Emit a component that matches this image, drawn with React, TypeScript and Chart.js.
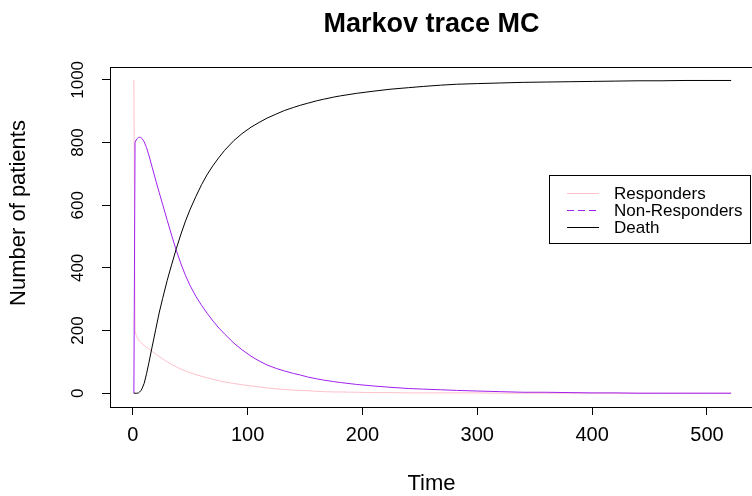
import React, { useEffect, useRef } from 'react';
import { Chart, registerables } from 'chart.js';

Chart.register(...registerables);

// ---- data ----
const timePoints = [1, 2, 3, 4, 5, 6, 7, 8, 10, 12, 14, 17, 20, 23, 26, 30, 34, 38, 42, 46, 50, 55, 60, 65, 70, 75, 80, 88, 95, 103, 110, 117, 125, 132, 140, 146, 152, 160, 166, 175, 181, 195, 210, 224, 240, 253, 268, 282, 300, 320, 340, 360, 380, 400, 420, 440, 460, 480, 500, 521];

const responders = [1000, 200, 185, 176, 170, 166, 162, 159, 152, 146, 141, 133, 125, 117, 110, 100, 91, 84, 77, 71, 66, 59, 54, 49, 44, 40, 36, 31, 27, 23, 20, 17, 14, 12, 10, 9, 8, 6, 5, 4, 4, 3, 2, 2, 1, 1, 1, 1, 1, 0, 0, 0, 0, 0, 0, 0, 0, 0, 0, 0];

const nonResponders = [0, 800, 808, 813, 816, 817, 816, 813, 802, 784, 760, 720, 680, 641, 603, 552, 502, 455, 413, 375, 343, 309, 280, 254, 230, 208, 189, 160, 139, 118, 103, 90, 79, 71, 63, 58, 52, 46, 42, 37, 34, 28, 23, 19, 15, 13, 11, 9, 7, 5, 3, 3, 2, 1, 1, 0, 0, 0, 0, 0];

const death = [0, 0, 0, 0, 1, 4, 8, 14, 32, 62, 96, 150, 203, 256, 302, 360, 412, 462, 508, 550, 587, 628, 666, 699, 727, 752, 775, 806, 828, 849, 864, 878, 891, 902, 912, 919, 925, 933, 938, 945, 949, 957, 964, 970, 975, 979, 983, 986, 988, 990, 992, 993, 994, 995, 996, 997, 997, 998, 998, 998];

const xTickValues = [0, 100, 200, 300, 400, 500];
const yTickValues = [0, 200, 400, 600, 800, 1000];

const chartTitle = 'Markov trace MC';
const xTitle = 'Time';
const yTitle = 'Number of patients';
const seriesNames = ['Responders', 'Non-Responders', 'Death'];
const seriesColors = ['#FFC0CB', '#A020F0', '#000000'];
const seriesDash = [[], [7, 4], []];

const FONT = "'Liberation Sans', Arial, sans-serif";

export default function App() {
  const canvasRef = useRef<HTMLCanvasElement | null>(null);

  useEffect(() => {
    document.body.style.margin = '0';
    const canvas = canvasRef.current;
    if (!canvas) return;

    const boxAndLegend = {
      id: 'boxAndLegend',
      afterDraw(chart: any) {
        const { ctx, chartArea: a } = chart;
        ctx.save();
        // plot box
        ctx.strokeStyle = '#000';
        ctx.lineWidth = 1;
        ctx.setLineDash([]);
        ctx.strokeRect(
          Math.round(a.left) + 0.5,
          Math.round(a.top) + 0.5,
          Math.round(a.right - a.left),
          Math.round(a.bottom - a.top)
        );
        // main title
        const cx = (a.left + a.right) / 2 - 1;
        ctx.fillStyle = '#000';
        ctx.font = `bold 27px ${FONT}`;
        ctx.textAlign = 'center';
        ctx.textBaseline = 'alphabetic';
        ctx.fillText(chartTitle, cx, 32);
        // y axis title
        ctx.save();
        ctx.translate(19, 213);
        ctx.rotate(-Math.PI / 2);
        ctx.font = `22px ${FONT}`;
        ctx.textBaseline = 'middle';
        ctx.fillText(yTitle, 0, 0);
        ctx.restore();
        // x axis title
        ctx.font = `22px ${FONT}`;
        ctx.textBaseline = 'middle';
        ctx.fillText(xTitle, cx, 484);

        // legend box
        const lx = 549.5, ly = 175.5, lw = 201, lh = 68;
        ctx.fillStyle = '#fff';
        ctx.fillRect(lx, ly, lw, lh);
        ctx.strokeStyle = '#000';
        ctx.strokeRect(lx, ly, lw, lh);
        const rows = [193, 210, 227];
        ctx.font = `17px ${FONT}`;
        ctx.textBaseline = 'middle';
        ctx.textAlign = 'left';
        for (let i = 0; i < seriesNames.length; i++) {
          const y = rows[i] + 0.5;
          ctx.beginPath();
          ctx.setLineDash(seriesDash[i]);
          ctx.strokeStyle = seriesColors[i];
          ctx.moveTo(567, y);
          ctx.lineTo(599, y);
          ctx.stroke();
          ctx.setLineDash([]);
          ctx.fillStyle = '#000';
          ctx.fillText(seriesNames[i], 614, rows[i] + 1);
        }
        ctx.restore();
      },
    };

    const seriesData = [responders, nonResponders, death];
    const chart = new Chart(canvas, {
      type: 'line',
      data: {
        datasets: seriesNames.map((name, i) => ({
          label: name,
          data: timePoints.map((t, j) => ({ x: t, y: seriesData[i][j] })),
          borderColor: seriesColors[i],
          backgroundColor: seriesColors[i],
          borderWidth: 1,
          pointRadius: 0,
          tension: 0,
          fill: false,
          order: 2 - i,
        })),
      },
      options: {
        responsive: false,
        animation: false,
        events: [],
        layout: { padding: { left: 0, right: 15, top: 67, bottom: 0 } },
        plugins: {
          legend: { display: false },
          tooltip: { enabled: false },
          title: { display: false },
        },
        scales: {
          x: {
            type: 'linear',
            min: -19.8,
            max: 541.8,
            afterBuildTicks: (scale: any) => {
              scale.ticks = xTickValues.map((v) => ({ value: v }));
            },
            afterFit: (scale: any) => {
              scale.height = 89;
              scale.paddingLeft = 0;
              scale.paddingRight = 0;
            },
            grid: {
              drawOnChartArea: false,
              drawTicks: true,
              tickLength: 8,
              color: '#000',
            },
            border: { display: true, color: '#000', width: 1 },
            ticks: {
              color: '#000',
              font: { family: FONT, size: 20 },
              padding: 8,
              maxRotation: 0,
              minRotation: 0,
              autoSkip: false,
              callback: (v: any) => String(v),
            },
          },
          y: {
            type: 'linear',
            min: -44,
            max: 1041,
            afterBuildTicks: (scale: any) => {
              scale.ticks = yTickValues.map((v) => ({ value: v }));
            },
            afterFit: (scale: any) => {
              scale.width = 110;
              scale.paddingTop = 0;
              scale.paddingBottom = 0;
            },
            grid: {
              drawOnChartArea: false,
              drawTicks: true,
              tickLength: 8,
              color: '#000',
            },
            border: { display: true, color: '#000', width: 1 },
            ticks: {
              color: '#000',
              font: { family: FONT, size: 17 },
              padding: 5,
              minRotation: 90,
              maxRotation: 90,
              crossAlign: 'center',
              autoSkip: false,
              callback: (v: any) => String(v),
            },
          },
        },
      },
      plugins: [boxAndLegend],
    } as any);

    return () => chart.destroy();
  }, []);

  return (
    <div style={{ position: 'fixed', left: 0, top: 0, width: 770, height: 496, background: '#fff' }}>
      <canvas ref={canvasRef} width={770} height={496} />
    </div>
  );
}
